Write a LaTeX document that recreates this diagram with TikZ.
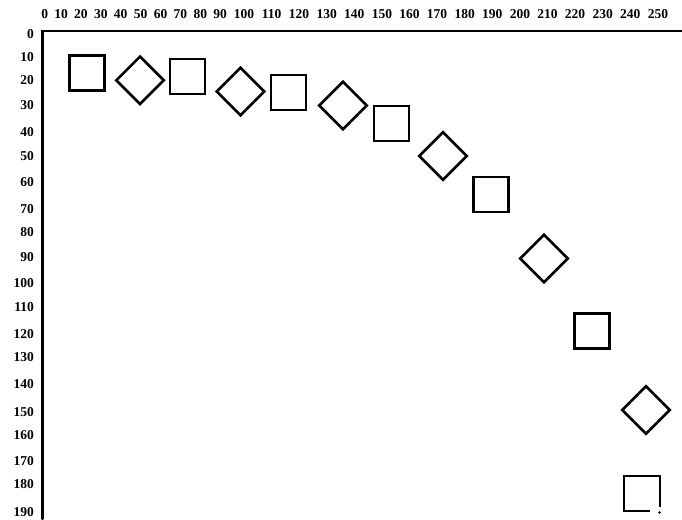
\documentclass[tikz,border=0pt]{standalone}
\usepackage{fontspec}
\setmainfont{Liberation Serif}
\usetikzlibrary{shapes.geometric}
\begin{document}
\begin{tikzpicture}[x=1pt,y=-1pt,
  sq/.style={draw, rectangle, line width=2.6pt, minimum size=35pt, inner sep=0pt},
  dm/.style={draw, diamond, line width=2.6pt, minimum size=48.5pt, inner sep=0pt},
  lbl/.style={font=\fontsize{13.5}{14}\selectfont\bfseries, inner sep=0pt},
  frameline/.style={line width=2.2pt, line cap=round}]
\useasboundingbox (0,0) rectangle (682,519);
% frame
\coordinate (tl) at (42.5,31);
\coordinate (tr) at (682,31);
\coordinate (bl) at (42.5,519);
\draw[frameline] (tr) -- (tl) -- (bl);
% top labels
\foreach \v/\x in {0/44.8,10/61,20/80.9,30/100.8,40/120.7,50/140.6,60/160.5,70/180.4,80/200.3,90/220.2,
  100/243.9,110/271.5,120/299.1,130/326.7,140/354.3,150/381.9,160/409.5,170/437.1,180/464.7,190/492.3,
  200/519.9,210/547.5,220/575.1,230/602.7,240/630.3,250/657.9}
  \node[lbl] (t\v) at (\x,14) {\v};
% left labels
\foreach \v/\y in {0/34,10/56.7,20/80,30/105,40/131.7,50/156,60/182,70/209,80/231.7,90/256.7,
  100/282.7,110/307,120/334,130/356.7,140/384,150/411.7,160/435,170/461,180/484,190/511.7}
  \node[lbl, anchor=east] (l\v) at (34,\y) {\v};
% shapes
\node[sq] (s1) at (87,73) {};
\node[dm] (s2) at (140,80.3) {};
\node[sq] (s3) at (187.5,76.5) {};
\node[dm] (s4) at (240.5,91.5) {};
\node[sq] (s5) at (288.5,92.5) {};
\node[dm] (s6) at (343,105.5) {};
\node[sq] (s7) at (391.5,123.5) {};
\node[dm] (s8) at (443,156) {};
\node[sq] (s9) at (491,194.5) {};
\node[dm] (s10) at (544,258.5) {};
\node[sq] (s11) at (592,331) {};
\node[dm] (s12) at (646,410) {};
% last, partly open square
\coordinate (q1) at (650,511);
\coordinate (q2) at (624,511);
\coordinate (q3) at (624,476);
\coordinate (q4) at (660,476);
\coordinate (q5) at (660,507);
\coordinate (qd) at (659.5,512.5);
\draw[line width=2.6pt] (q1) -- (q2) -- (q3) -- (q4) -- (q5);
\fill (qd) circle (1.4);
\end{tikzpicture}
\end{document}
